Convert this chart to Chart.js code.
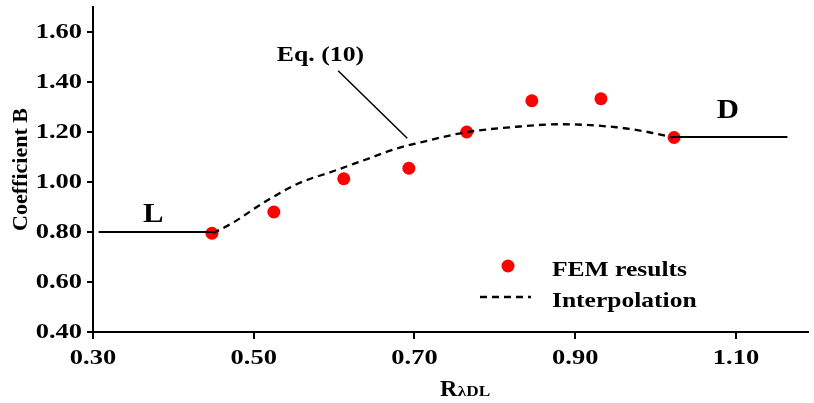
<!DOCTYPE html>
<html>
<head>
<meta charset="utf-8">
<script src="https://cdn.jsdelivr.net/npm/chart.js@4.4.1/dist/chart.umd.min.js"></script>
<style>
  html, body { margin: 0; padding: 0; background: #fff; }
  #wrap { width: 814px; height: 403px; position: relative; }
</style>
</head>
<body>
<div id="wrap"><canvas id="c"></canvas></div>
<script>
// ---- data ----
const xTickValues = [0.30, 0.50, 0.70, 0.90, 1.10];
const yTickValues = [0.40, 0.60, 0.80, 1.00, 1.20, 1.40, 1.60];

const femX = [0.448, 0.525, 0.612, 0.693, 0.765, 0.846, 0.932, 1.023];
const femY = [0.795, 0.880, 1.013, 1.055, 1.200, 1.325, 1.333, 1.178];

const interpX = [0.449, 0.473, 0.514, 0.556, 0.597, 0.638, 0.679, 0.716, 0.764, 0.827, 0.881, 0.951, 0.992, 1.022];
const interpY = [0.795, 0.835, 0.921, 0.995, 1.041, 1.088, 1.135, 1.165, 1.199, 1.221, 1.231, 1.219, 1.199, 1.178];

const lLineX = [0.307, 0.449];
const lLineY = [0.800, 0.800];
const dLineX = [1.022, 1.164];
const dLineY = [1.180, 1.180];
const eqLeaderX = [0.605, 0.691];
const eqLeaderY = [1.445, 1.175];

const xMin = 0.30, xMax = 1.189, yMin = 0.40, yMax = 1.70;

const pts = (xs, ys) => xs.map((x, i) => ({ x: x, y: ys[i] }));

const SERIF = '"Liberation Serif", "Times New Roman", serif';

function stretchText(ctx, text, x, y, font, align, sx) {
  ctx.save();
  ctx.font = font;
  ctx.textBaseline = 'middle';
  ctx.textAlign = 'left';
  ctx.fillStyle = '#000';
  const w = ctx.measureText(text).width * sx;
  const left = align === 'center' ? x - w / 2 : (align === 'right' ? x - w : x);
  ctx.translate(left, y);
  ctx.scale(sx, 1);
  ctx.fillText(text, 0, 0);
  ctx.restore();
}

const textPlugin = {
  id: 'texts',
  afterDraw(chart) {
    const ctx = chart.ctx;
    const xs = chart.scales.x, ys = chart.scales.y;
    const tickFont = 'bold 21px ' + SERIF;

    // tick labels from the scales' own ticks
    xs.ticks.forEach(t => {
      stretchText(ctx, Number(t.value).toFixed(2), xs.getPixelForValue(t.value), 359, tickFont, 'center', 1.26);
    });
    ys.ticks.forEach(t => {
      stretchText(ctx, Number(t.value).toFixed(2), 82, ys.getPixelForValue(t.value) + 1, tickFont, 'right', 1.26);
    });

    // annotations (data coords)
    stretchText(ctx, 'Eq. (10)', xs.getPixelForValue(0.583), ys.getPixelForValue(1.508), 'bold 22px ' + SERIF, 'center', 1.17);
    stretchText(ctx, 'L', xs.getPixelForValue(0.375), ys.getPixelForValue(0.868), 'bold 28px ' + SERIF, 'center', 1.1);
    stretchText(ctx, 'D', xs.getPixelForValue(1.090), ys.getPixelForValue(1.284), 'bold 28px ' + SERIF, 'center', 1.1);

    // legend
    const fem = chart.data.datasets[0];
    const itp = chart.data.datasets[1];
    ctx.save();
    ctx.fillStyle = fem.backgroundColor;
    ctx.beginPath();
    ctx.arc(508, 266, 6.5, 0, Math.PI * 2);
    ctx.fill();
    ctx.strokeStyle = itp.borderColor;
    ctx.lineWidth = itp.borderWidth;
    ctx.setLineDash(itp.borderDash);
    ctx.beginPath();
    ctx.moveTo(480, 297);
    ctx.lineTo(531, 297);
    ctx.stroke();
    ctx.restore();
    stretchText(ctx, fem.label, 552, 270.5, 'bold 22px ' + SERIF, 'left', 1.16);
    stretchText(ctx, itp.label, 552, 301.5, 'bold 22px ' + SERIF, 'left', 1.16);

    // x axis title R with subscript
    ctx.save();
    ctx.fillStyle = '#000';
    ctx.textBaseline = 'alphabetic';
    ctx.textAlign = 'left';
    ctx.font = 'bold 24px ' + SERIF;
    ctx.fillText('R', 440, 396);
    const rw = ctx.measureText('R').width;
    ctx.font = 'bold 15px ' + SERIF;
    ctx.translate(440 + rw + 0.5, 396);
    ctx.scale(1.15, 1);
    ctx.fillText('λDL', 0, 0);
    ctx.restore();
  }
};

new Chart(document.getElementById('c'), {
  type: 'scatter',
  data: {
    datasets: [
      {
        label: 'FEM results',
        data: pts(femX, femY),
        backgroundColor: '#ff0000',
        borderColor: '#ff0000',
        pointRadius: 6.5,
        pointBorderWidth: 0,
        showLine: false,
        order: 5
      },
      {
        label: 'Interpolation',
        data: pts(interpX, interpY),
        borderColor: '#000000',
        backgroundColor: '#000000',
        borderWidth: 2.3,
        borderDash: [7, 5],
        pointRadius: 0,
        showLine: true,
        cubicInterpolationMode: 'monotone',
        order: 1
      },
      {
        label: 'L',
        data: pts(lLineX, lLineY),
        borderColor: '#000000',
        borderWidth: 2,
        pointRadius: 0,
        showLine: true,
        order: 2
      },
      {
        label: 'D',
        data: pts(dLineX, dLineY),
        borderColor: '#000000',
        borderWidth: 2,
        pointRadius: 0,
        showLine: true,
        order: 2
      },
      {
        label: 'Eq. (10)',
        data: pts(eqLeaderX, eqLeaderY),
        borderColor: '#000000',
        borderWidth: 1.5,
        pointRadius: 0,
        showLine: true,
        order: 2
      }
    ]
  },
  options: {
    responsive: true,
    maintainAspectRatio: false,
    animation: false,
    layout: { padding: { top: 7, right: 1, left: 0, bottom: 0 } },
    plugins: {
      legend: { display: false },
      tooltip: { enabled: false },
      title: { display: false }
    },
    scales: {
      x: {
        type: 'linear',
        min: xMin,
        max: xMax,
        afterBuildTicks: (s) => { s.ticks = xTickValues.map(v => ({ value: v })); },
        afterFit: (s) => { s.height = 71; s.paddingLeft = 0; s.paddingRight = 0; },
        border: { display: true, color: '#000', width: 2 },
        grid: { display: true, drawOnChartArea: false, drawTicks: true, tickLength: 7, color: '#000', lineWidth: 2 },
        ticks: { display: false },
        title: { display: false }
      },
      y: {
        type: 'linear',
        min: yMin,
        max: yMax,
        afterBuildTicks: (s) => { s.ticks = yTickValues.map(v => ({ value: v })); },
        afterFit: (s) => { s.width = 93; s.paddingTop = 0; s.paddingBottom = 0; },
        border: { display: true, color: '#000', width: 2 },
        grid: { display: true, drawOnChartArea: false, drawTicks: true, tickLength: 6, color: '#000', lineWidth: 2 },
        ticks: { display: false },
        title: {
          display: true,
          text: 'Coefficient B',
          color: '#000',
          font: { family: SERIF, size: 22, weight: 'bold' },
          padding: { top: 8, bottom: 0 }
        }
      }
    }
  },
  plugins: [textPlugin]
});
</script>
</body>
</html>
